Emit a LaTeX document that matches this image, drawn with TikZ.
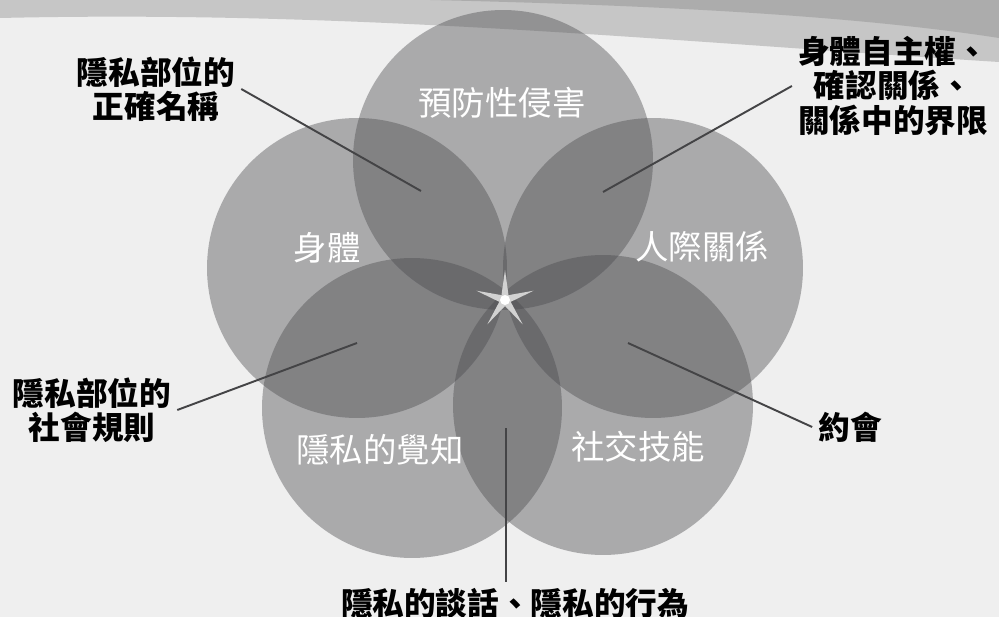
\documentclass[tikz,border=0pt]{standalone}
\usepackage{fontspec}
\newfontfamily\cjk{Noto Sans CJK TC}
\usetikzlibrary{shapes.geometric}
\definecolor{petalgray}{RGB}{75,75,78}
\definecolor{paper}{RGB}{239,239,239}
\definecolor{leader}{RGB}{68,68,70}

\begin{document}
\begin{tikzpicture}[x=0.02cm, y=-0.02cm,
    petal/.style={circle, minimum size=6cm, inner sep=0, fill=petalgray, fill opacity=0.42},
    inlabel/.style={text=white, font=\cjk\fontsize{19}{21}\selectfont},
    outlabel/.style={align=center, font=\cjk\bfseries\fontsize{18}{19.5}\selectfont},
    leaderline/.style={draw=leader, line width=1.1pt}]

    % background and the swoosh on top
    \useasboundingbox (0,0) rectangle (999,617);
    \fill[paper] (0,0) rectangle (999,617);
    \fill[gray!45] (0,0) -- (0,18) .. controls (350,10) and (650,40) .. (999,62) -- (999,0) -- cycle;
    \fill[gray!65] (430,0) .. controls (650,5) and (850,15) .. (999,38) -- (999,0) -- cycle;

    % five circles
    \node[petal] (prevent) at (503,160) {};
    \node[petal] (body) at (357,268) {};
    \node[petal] (relation) at (653,268) {};
    \node[petal] (aware) at (412,408) {};
    \node[petal] (social) at (603,405) {};

    \node[star, star points=5, star point ratio=5, minimum size=1.2cm, inner sep=0, fill=gray!35] (burst) at (505,300) {};
    \node[circle, minimum size=0.2cm, inner sep=0, fill=white] (hub) at (505,300) {};

    % labels inside the circles
    \node[inlabel] (lprevent) at (502,103) {預防性侵害};
    \node[inlabel] (lbody) at (327,248) {身體};
    \node[inlabel] (lrelation) at (702,247) {人際關係};
    \node[inlabel] (laware) at (380,450) {隱私的覺知};
    \node[inlabel] (lsocial) at (638,447) {社交技能};

    % ends of the leader lines
    \coordinate (pname) at (421,191);
    \coordinate (pright) at (603,192);
    \coordinate (prule) at (357,343);
    \coordinate (pdate) at (628,343);
    \coordinate (ptalk) at (506,428);

    % labels outside
    \node[outlabel] (name) at (156,89) {隱私部位的\\正確名稱};
    \node[outlabel] (right) at (893,86) {身體自主權、\\確認關係、\\關係中的界限};
    \node[outlabel] (rule) at (92,410) {隱私部位的\\社會規則};
    \node[outlabel] (date) at (850,427) {約會};
    \node[outlabel] (talk) at (515,603) {隱私的談話、隱私的行為};

    \draw[leaderline] (name.east) -- (pname);
    \draw[leaderline] (right.west) -- (pright);
    \draw[leaderline] (rule.east) -- (prule);
    \draw[leaderline] (date.west) -- (pdate);
    \draw[leaderline] (ptalk) -- (ptalk |- talk.north);
\end{tikzpicture}
\end{document}
